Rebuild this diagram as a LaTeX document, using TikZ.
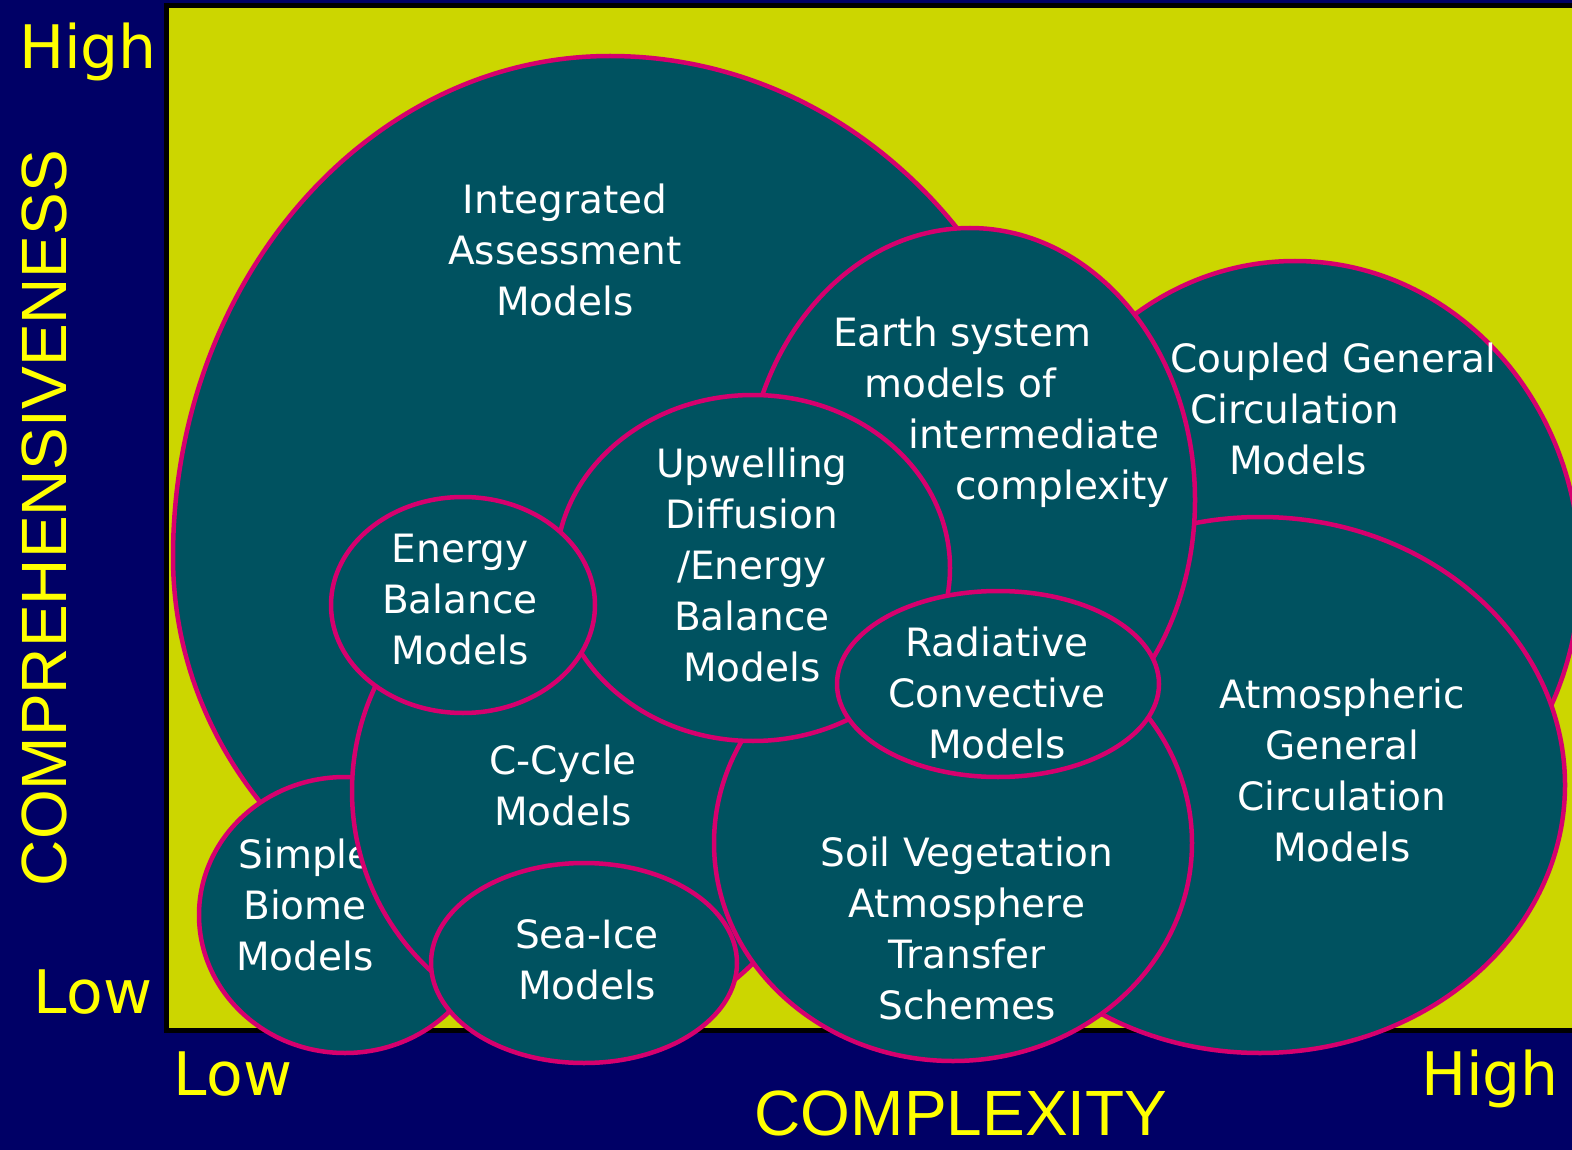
\documentclass[tikz,border=0pt]{standalone}
\usepackage{fontspec}
\setmainfont{DejaVu Sans}
\newfontfamily\arialfont{Liberation Sans}
\usetikzlibrary{shapes.geometric}
\usetikzlibrary{positioning}
\definecolor{navyback}{HTML}{000066}
\definecolor{plotback}{HTML}{CCD600}
\definecolor{modelteal}{HTML}{005260}
\definecolor{modelrim}{HTML}{D6006E}
\definecolor{axisyellow}{HTML}{FFFF00}

\begin{document}
\begin{tikzpicture}[x=1pt, y=-1pt,
		modelarea/.style={draw=modelrim, fill=modelteal, line width=4.5pt},
		model/.style={modelarea, shape=ellipse, inner sep=0pt},
		modeltext/.style={text=white, inner sep=0pt, font=\fontsize{39}{51}\selectfont},
		axistext/.style={text=axisyellow, inner sep=0pt, anchor=base, font=\fontsize{60}{60}\selectfont},
		axistitle/.style={text=axisyellow, inner sep=0pt, anchor=base, font=\arialfont\fontsize{64}{64}\selectfont}]
		\useasboundingbox (0,0) rectangle (1572,1150);
		\fill[navyback] (0,0) rectangle (1572,1150);
		\begin{scope}
			\clip (0,0) rectangle (1572,1150);
			\draw[fill=plotback, line width=5pt] (166,6) rectangle (1595,1030);
			
			\draw[modelarea] (173,557) arc[start angle=180, end angle=90, x radius=437pt, y radius=501pt]
				arc[start angle=90, end angle=0, x radius=460pt, y radius=501pt]
				arc[start angle=0, end angle=-90, x radius=460pt, y radius=409pt]
				arc[start angle=-90, end angle=-180, x radius=437pt, y radius=409pt] -- cycle;
			\node[modeltext, align=center] (IAtext) at (565,250) {Integrated\\Assessment\\Models};
			
			\node[model, minimum width=570pt, minimum height=618pt] (CGCM) at (1295,570) {};
			\node[modeltext, align=left, anchor=west] (CGCMtext) at (1170,409) {Coupled General\\\hspace*{20pt}Circulation\\\hspace*{59pt}Models};
			
			\node[model, minimum width=610pt, minimum height=536pt] (AGCM) at (1260,785) {};
			\node[modeltext, align=center] (AGCMtext) at (1342,770) {Atmospheric\\General\\Circulation\\Models};
			
			\node[model, minimum width=450pt, minimum height=544pt] (ES) at (970,500) {};
			\node[modeltext, align=left, anchor=west] (EStext) at (833,412) {Earth system\\\hspace*{31pt}models of\\\hspace*{75pt}intermediate\\\hspace*{122pt}complexity};
			
			\node[model, minimum width=292pt, minimum height=276pt] (SB) at (345,915) {};
			\node[modeltext, align=center] (SBtext) at (305,905) {Simple\\Biome\\Models};
			
			\node[model, minimum width=472pt, minimum height=482pt] (CC) at (588,791) {};
			\node[modeltext, align=center] (CCtext) at (563,785) {C-Cycle\\Models};
			
			\node[model, minimum width=478pt, minimum height=436pt] (SV) at (953,843) {};
			\node[modeltext, align=center] (SVtext) at (967,928) {Soil Vegetation\\Atmosphere\\Transfer\\Schemes};
			
			\node[model, minimum width=306pt, minimum height=200pt] (SI) at (584,963) {};
			\node[modeltext, align=center] (SItext) at (587,960) {Sea-Ice\\Models};
			
			\node[model, minimum width=394pt, minimum height=346pt] (UD) at (753,568) {};
			\node[modeltext, align=center] (UDtext) at (752,565) {Upwelling\\Diffusion\\/Energy\\Balance\\Models};
			
			\node[model, minimum width=264pt, minimum height=216pt] (EBM) at (463,605) {};
			\node[modeltext, align=center] (EBMtext) at (460,600) {Energy\\Balance\\Models};
			
			\node[model, minimum width=322pt, minimum height=186pt] (RC) at (998,684) {};
			\node[modeltext, align=center] (RCtext) at (997,693) {Radiative\\Convective\\Models};
		\end{scope}
		
		\node[axistext] (yhigh) at (88,69) {High};
		\node[axistext] (ylow) at (93,1013) {Low};
		\node[axistext] (xlow) at (233,1095) {Low};
		\node[axistext] (xhigh) at (1490,1095) {High};
		\node[axistitle, rotate=90] (ytitle) at (66,518) {COMPREHENSIVENESS};
		\node[axistitle] (xtitle) at (961,1135) {COMPLEXITY};
\end{tikzpicture}
\end{document}
